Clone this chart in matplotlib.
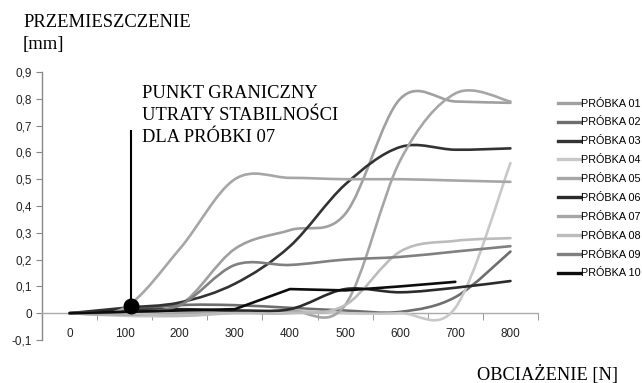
import matplotlib
matplotlib.use("Agg")
import matplotlib.pyplot as plt
from matplotlib.path import Path
from matplotlib.patches import PathPatch
from matplotlib.lines import Line2D

categories = ['0', '100', '200', '300', '400', '500', '600', '700', '800']
y_ticks = [-0.1, 0, 0.1, 0.2, 0.3, 0.4, 0.5, 0.6, 0.7, 0.8, 0.9]
y_tick_labels = ['-0,1', '0', '0,1', '0,2', '0,3', '0,4', '0,5', '0,6', '0,7', '0,8', '0,9']

s01 = [0, 0.005, 0.03, 0.24, 0.31, 0.37, 0.80, 0.79, 0.785]
s02 = [0, 0.01, 0.03, 0.03, 0.02, 0.01, 0.005, 0.06, 0.23]
s03 = [0, 0.02, 0.04, 0.11, 0.25, 0.48, 0.62, 0.61, 0.615]
s04 = [0, -0.01, -0.01, 0.005, 0.01, 0.0, 0.0, 0.02, 0.56]
s05 = [0, -0.005, 0.0, 0.01, 0.01, 0.03, 0.57, 0.82, 0.79]
s06 = [0, 0.01, 0.015, 0.01, 0.015, 0.09, 0.078, 0.095, 0.12]
s07 = [0, 0.02, 0.24, 0.50, 0.505, 0.50, 0.50, 0.495, 0.49]
s08 = [0, 0.0, -0.01, 0.0, 0.0, 0.03, 0.23, 0.27, 0.28]
s09 = [0, 0.005, 0.03, 0.18, 0.18, 0.20, 0.21, 0.23, 0.25]
s10 = [0, 0.005, 0.01, 0.015, 0.09, 0.085, 0.10, 0.117]

names = ['PRÓBKA 01', 'PRÓBKA 02', 'PRÓBKA 03', 'PRÓBKA 04', 'PRÓBKA 05',
         'PRÓBKA 06', 'PRÓBKA 07', 'PRÓBKA 08', 'PRÓBKA 09', 'PRÓBKA 10']
series = [s01, s02, s03, s04, s05, s06, s07, s08, s09, s10]
smooth = [True, True, True, True, True, True, True, True, True, False]
colors = ['#a0a0a0', '#6e6e6e', '#333333', '#c8c8c8', '#a6a6a6',
          '#2b2b2b', '#a6a6a6', '#bcbcbc', '#808080', '#0d0d0d']

marker_cat = 1.12
marker_val = 0.026
line_top = 0.68

fig = plt.figure(figsize=(6.42, 3.83), dpi=100)
ax = fig.add_axes([0.0654, 0.1123, 0.7726, 0.6997])
ax.set_xlim(-0.5, 8.5)
ax.set_ylim(-0.1, 0.9)

lw = 1.9


def smooth_path(ys):
    xs = list(range(len(ys)))
    pts = list(zip(xs, ys))
    n = len(pts)
    verts = [pts[0]]
    codes = [Path.MOVETO]
    for i in range(n - 1):
        p0 = pts[i - 1] if i > 0 else pts[i]
        p1 = pts[i]
        p2 = pts[i + 1]
        p3 = pts[i + 2] if i + 2 < n else pts[i + 1]
        c1 = (p1[0] + (p2[0] - p0[0]) / 6, p1[1] + (p2[1] - p0[1]) / 6)
        c2 = (p2[0] - (p3[0] - p1[0]) / 6, p2[1] - (p3[1] - p1[1]) / 6)
        verts += [c1, c2, p2]
        codes += [Path.CURVE4] * 3
    return Path(verts, codes)


handles = []
for ys, name, col, sm in zip(series, names, colors, smooth):
    if sm:
        patch = PathPatch(smooth_path(ys), facecolor='none', edgecolor=col,
                          lw=lw, capstyle='round', joinstyle='round', zorder=3)
        ax.add_patch(patch)
    else:
        ax.plot(range(len(ys)), ys, color=col, lw=lw, zorder=3,
                solid_capstyle='round')
    handles.append(Line2D([0], [0], color=col, lw=2.4))

# annotation marker
ax.plot([marker_cat, marker_cat], [marker_val, line_top], color='black', lw=1.5, zorder=4)
ax.plot([marker_cat], [marker_val], 'o', color='black', markersize=10.5, zorder=5)

# axes styling
for s in ['top', 'right']:
    ax.spines[s].set_visible(False)
ax.spines['left'].set_color('#888888')
ax.spines['left'].set_linewidth(1.0)
ax.spines['bottom'].set_position(('data', 0))
ax.spines['bottom'].set_color('#aaaaaa')
ax.spines['bottom'].set_linewidth(1.0)

ax.set_yticks(y_ticks)
ax.set_yticklabels(y_tick_labels, fontsize=8.5, family='Liberation Sans', color='#222222')
ax.tick_params(axis='y', direction='out', length=4, color='#888888', pad=3)

ax.set_xticks(range(len(categories)))
ax.set_xticklabels(categories, fontsize=8.5, family='Liberation Sans', color='#222222')
ax.tick_params(axis='x', length=0, pad=11)
ax.set_xticks([k - 0.5 for k in range(len(categories) + 1)], minor=True)
ax.tick_params(axis='x', which='minor', direction='out', length=5, color='#888888')

serif = 'Liberation Serif'
fig.text(23 / 642, 1 - 27 / 383, 'PRZEMIESZCZENIE', family=serif,
         fontsize=13.4, va='baseline', ha='left')
fig.text(23 / 642, 1 - 49 / 383, '[mm]', family=serif,
         fontsize=13.4, va='baseline', ha='left')
fig.text(618 / 642, 1 - 380 / 383, 'OBCIAŻENIE [N]', family=serif,
         fontsize=13.2, va='baseline', ha='right')
for i, line in enumerate(['PUNKT GRANICZNY', 'UTRATY STABILNOŚCI', 'DLA PRÓBKI 07']):
    fig.text(142 / 642, 1 - (98 + 22 * i) / 383, line, family=serif,
             fontsize=13.3, va='baseline', ha='left')

fig.legend(handles, names, loc='center left', bbox_to_anchor=(553 / 642, 1 - 188.5 / 383),
           frameon=False, handlelength=2.0, handletextpad=0.1, borderpad=0,
           labelspacing=0.82, prop={'family': 'Liberation Sans', 'size': 7.8})

fig.savefig('out.png', dpi=100)
